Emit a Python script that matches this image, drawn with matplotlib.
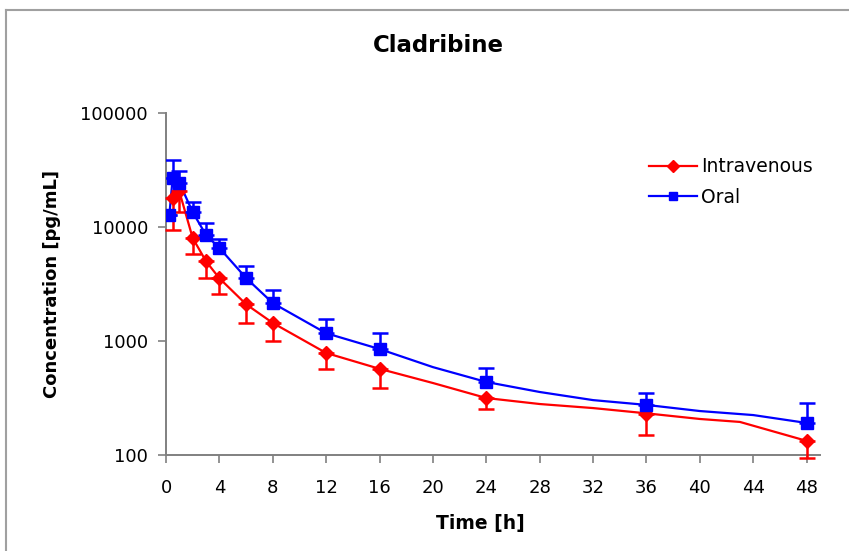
import numpy as np
import matplotlib.pyplot as plt
from matplotlib.lines import Line2D

plt.rcParams['font.family'] = ['DejaVu Sans']

# Measured points (markers with error bars)
iv_t = [0.5, 1, 2, 3, 4, 6, 8, 12, 16, 24, 36, 48]
iv_c = [18000, 20500, 8000, 5000, 3550, 2100, 1440, 785, 570, 316, 230, 133]
iv_lo = [9500, 13500, 5800, 3600, 2600, 1430, 1000, 568, 390, 253, 150, 95]

oral_t = [0.25, 0.5, 1, 2, 3, 4, 6, 8, 12, 16, 24, 36, 48]
oral_c = [12700, 27000, 24500, 13500, 8500, 6550, 3570, 2150, 1170, 850, 437, 275, 191]
oral_hi = [12700, 39000, 31000, 16600, 10800, 7850, 4550, 2800, 1560, 1170, 580, 350, 286]

# Curves drawn through the points
iv_line_t = [0.5, 1, 2, 3, 4, 6, 8, 12, 16, 20, 24, 28, 32, 36, 40, 43, 48]
iv_line_c = [18000, 20500, 8000, 5000, 3550, 2100, 1440, 785, 570, 428, 316, 280, 258, 232, 207, 195, 133]
oral_line_t = [0.25, 0.5, 1, 2, 3, 4, 6, 8, 12, 16, 20, 24, 28, 32, 36, 40, 44, 48]
oral_line_c = [12700, 27000, 24500, 13500, 8500, 6550, 3570, 2150, 1170, 850, 590, 437, 357, 303, 275, 243, 224, 191]

red = '#ff0000'
blue = '#0000ff'

fig = plt.figure(figsize=(8.49, 5.51), dpi=100)
ax = fig.add_axes([166/849, 1-455/551, 654/849, (455-113)/551])

ax.plot(iv_line_t, iv_line_c, color=red, lw=1.6, zorder=2)
ax.plot(oral_line_t, oral_line_c, color=blue, lw=1.6, zorder=2)

iv_err = [np.array(iv_c) - np.array(iv_lo), np.zeros(len(iv_c))]
oral_err = [np.zeros(len(oral_c)), np.array(oral_hi) - np.array(oral_c)]
ax.errorbar(iv_t, iv_c, yerr=iv_err, fmt='D', color=red, ms=7, capsize=6,
            elinewidth=1.8, capthick=1.8, zorder=3, clip_on=False)
ax.errorbar(oral_t, oral_c, yerr=oral_err, fmt='s', color=blue, ms=8, capsize=6,
            elinewidth=1.8, capthick=1.8, zorder=4)

ax.set_yscale('log')
ax.set_ylim(100, 100000)
ax.set_xlim(0, 49)
ax.set_xticks(range(0, 49, 4))
ax.set_yticks([100, 1000, 10000, 100000])
ax.set_yticklabels(['100', '1000', '10000', '100000'])
ax.minorticks_off()
ax.tick_params(axis='both', colors='#808080', labelcolor='black', labelsize=13,
               length=6, width=1.2)
ax.tick_params(axis='y', pad=7)
ax.tick_params(axis='x', pad=11)
for s in ['top', 'right']:
    ax.spines[s].set_visible(False)
for s in ['left', 'bottom']:
    ax.spines[s].set_color('#808080')
    ax.spines[s].set_linewidth(1.4)

ax.set_ylabel('Concentration [pg/mL]', fontsize=13, fontweight='bold', labelpad=14)
fig.text(480/849, 1-523/551, 'Time [h]', ha='center', va='center',
         fontsize=13.5, fontweight='bold')
fig.text(438/849, 1-45/551, 'Cladribine', ha='center', va='center',
         fontsize=16.5, fontweight='bold')

handles = [Line2D([], [], color=red, marker='D', ms=6, lw=1.6),
           Line2D([], [], color=blue, marker='s', ms=6, lw=1.6)]
ax.legend(handles, ['Intravenous', 'Oral'], loc='upper left',
          bbox_to_anchor=(0.712, 0.92), frameon=False, fontsize=13.5,
          handlelength=2.6, handletextpad=0.2, labelspacing=0.62)

# chart-area border
fig.add_artist(Line2D([6/849, 6/849], [0, 1-10/551], color='#a0a0a0', lw=1.5))
fig.add_artist(Line2D([6/849, 1], [1-10/551, 1-10/551], color='#a0a0a0', lw=1.5))

fig.savefig('out.png', dpi=100)
